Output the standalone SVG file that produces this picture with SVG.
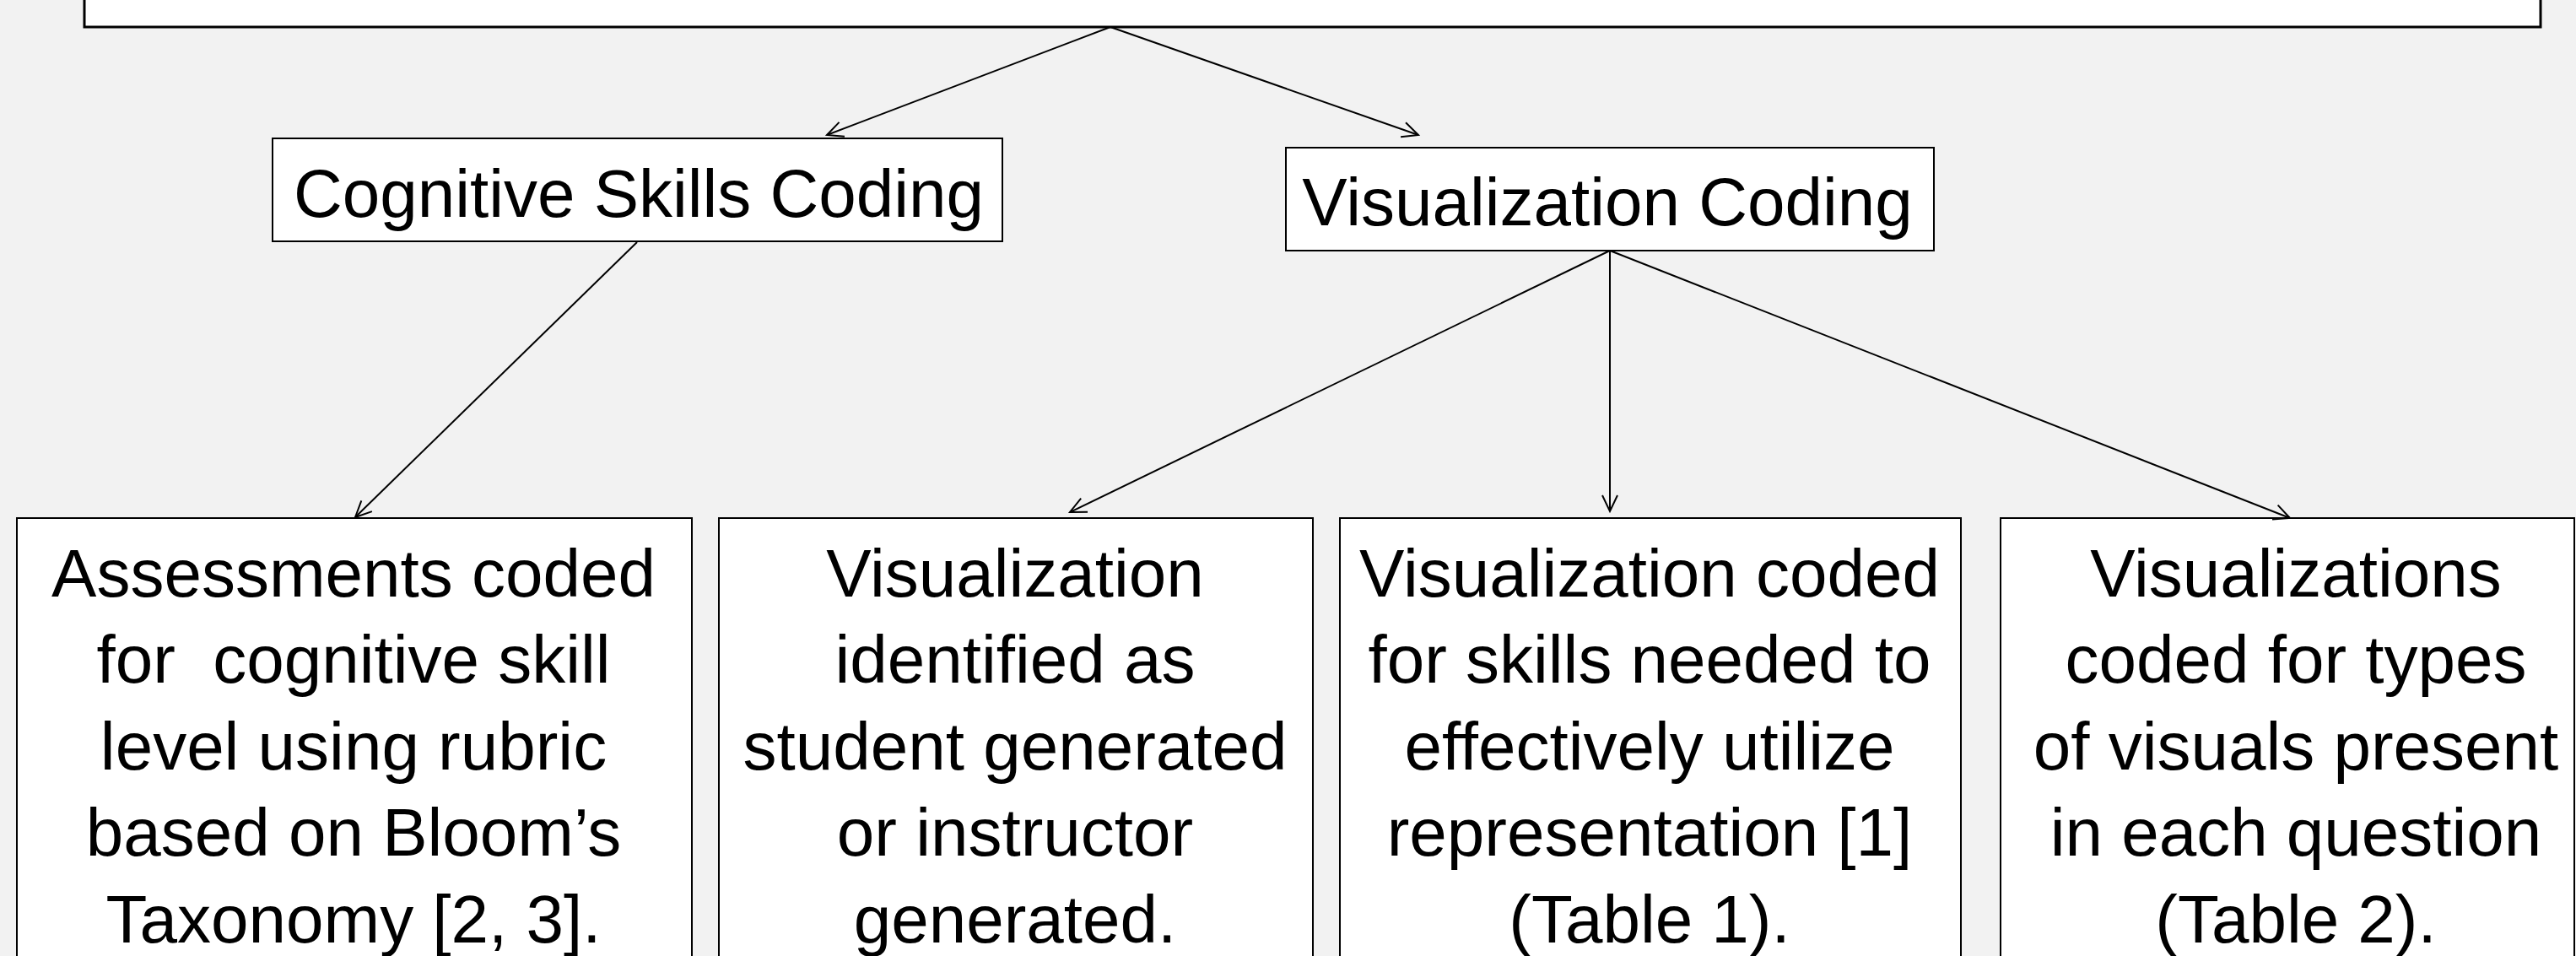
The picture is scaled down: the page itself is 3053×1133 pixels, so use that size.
<svg xmlns="http://www.w3.org/2000/svg" width="3053" height="1133" viewBox="0 0 3053 1133">
  <style>
    .box { fill: #ffffff; stroke: #000000; stroke-width: 2; }
    .thick { stroke-width: 3; }
    .label { font-family: "Liberation Sans", Arial, sans-serif; font-size: 80px; fill: #000000; text-anchor: middle; }
    .edge { fill: none; stroke: #000000; stroke-width: 2; marker-end: url(#arrow); }
  </style>
  <defs>
    <marker id="arrow" markerUnits="userSpaceOnUse" markerWidth="26" markerHeight="26" refX="21" refY="11" orient="auto">
      <path d="M2,2 L21,11 L2,20" fill="none" stroke="#000000" stroke-width="2"/>
    </marker>
  </defs>

  <rect x="0" y="0" width="3053" height="1133" fill="#f2f2f2"/>

  <!-- root box, cut at the top edge -->
  <g id="root">
    <rect class="box thick" x="100" y="-20" width="2911" height="52"/>
  </g>

  <g id="cognitive-skills">
    <rect class="box" x="323" y="164" width="865" height="122"/>
    <text class="label" x="757" y="257">Cognitive Skills Coding</text>
  </g>

  <g id="visualization-coding">
    <rect class="box" x="1524" y="175" width="768" height="122"/>
    <text class="label" x="1905" y="267">Visualization Coding</text>
  </g>

  <g id="assessments-coded">
    <rect class="box" x="20" y="614" width="800" height="560"/>
    <text class="label" x="419" y="707">Assessments coded</text>
    <text class="label" x="419" y="809" xml:space="preserve">for  cognitive skill</text>
    <text class="label" x="419" y="912">level using rubric</text>
    <text class="label" x="419" y="1014">based on Bloom’s</text>
    <text class="label" x="419" y="1117">Taxonomy [2, 3].</text>
  </g>

  <g id="generated-by">
    <rect class="box" x="852" y="614" width="704" height="560"/>
    <text class="label" x="1203" y="707">Visualization</text>
    <text class="label" x="1203" y="809">identified as</text>
    <text class="label" x="1203" y="912">student generated</text>
    <text class="label" x="1203" y="1014">or instructor</text>
    <text class="label" x="1203" y="1117">generated.</text>
  </g>

  <g id="skills-needed">
    <rect class="box" x="1588" y="614" width="736" height="560"/>
    <text class="label" x="1955" y="707">Visualization coded</text>
    <text class="label" x="1955" y="809">for skills needed to</text>
    <text class="label" x="1955" y="912">effectively utilize</text>
    <text class="label" x="1955" y="1014">representation [1]</text>
    <text class="label" x="1955" y="1117">(Table 1).</text>
  </g>

  <g id="visual-types">
    <rect class="box" x="2371" y="614" width="680" height="560"/>
    <text class="label" x="2721" y="707">Visualizations</text>
    <text class="label" x="2721" y="809">coded for types</text>
    <text class="label" x="2721" y="912">of visuals present</text>
    <text class="label" x="2721" y="1014">in each question</text>
    <text class="label" x="2721" y="1117">(Table 2).</text>
  </g>

  <g id="connectors">
    <line class="edge" x1="1316" y1="32" x2="980" y2="160"/>
    <line class="edge" x1="1316" y1="32" x2="1681" y2="160"/>
    <line class="edge" x1="755" y1="287" x2="421" y2="613"/>
    <line class="edge" x1="1908" y1="297" x2="1268" y2="607"/>
    <line class="edge" x1="1908" y1="297" x2="1908" y2="606"/>
    <line class="edge" x1="1908" y1="297" x2="2714" y2="614"/>
  </g>
</svg>
